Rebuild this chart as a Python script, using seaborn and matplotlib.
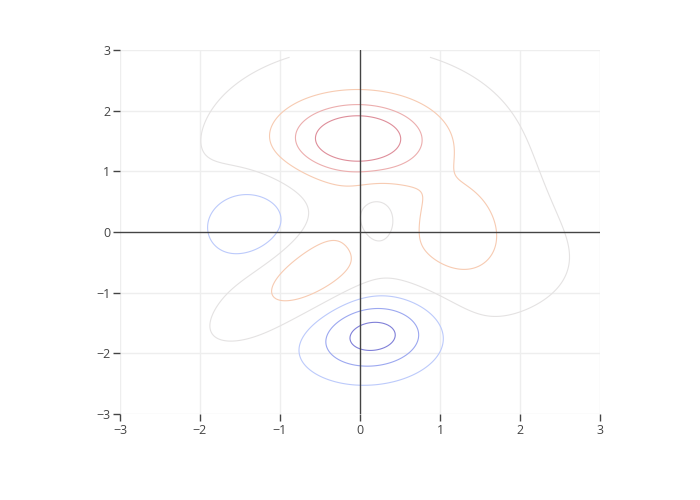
import numpy as np
import seaborn as sns
import matplotlib.pyplot as plt

# bumps that build the surface:
# centre, height, spread, tilt (deg) and shape power (2 = flat topped)
bump_x = [0.00, -0.03, -0.05, 1.25, 1.70, 0.17, -1.34, -0.62, -1.20, 0.22]
bump_y = [1.20, 1.52, 2.00, -0.02, -0.50, -1.70, 0.18, -0.72, -1.15, 0.17]
bump_amp = [0.95, 3.70, 0.30, 0.70, 0.80, -3.00, -1.90, 1.35, 0.80, -1.20]
bump_sx = [1.60, 0.58, 0.70, 0.46, 0.90, 0.54, 0.45, 0.52, 0.85, 0.21]
bump_sy = [1.45, 0.40, 0.40, 0.82, 0.80, 0.43, 0.50, 0.37, 0.40, 0.34]
bump_tilt = [0, 0, 0, 0, 0, 15, 0, 50, 43, 0]
bump_pow = [2, 1, 1, 1, 1, 1, 1, 1, 1, 1]

levels = [-2.5, -1.5, -0.5, 0.5, 1.5, 2.5, 3.5]
level_colors = ['#8080d8', '#9ca8f0', '#bccafb', '#e4e2e2',
                '#f7cbb2', '#ecaeae', '#de8e9a']

x_ticks = [-3, -2, -1, 0, 1, 2, 3]
y_ticks = [-3, -2, -1, 0, 1, 2, 3]

xs = np.linspace(-3, 3, 241)
ys = np.linspace(-3, 2.88, 237)
X, Y = np.meshgrid(xs, ys)
Z = np.zeros_like(X)
for cx, cy, a, sx, sy, t, p in zip(bump_x, bump_y, bump_amp, bump_sx,
                                   bump_sy, bump_tilt, bump_pow):
    th = np.deg2rad(t)
    u = (X - cx) * np.cos(th) + (Y - cy) * np.sin(th)
    v = -(X - cx) * np.sin(th) + (Y - cy) * np.cos(th)
    q = u ** 2 / sx ** 2 + v ** 2 / sy ** 2
    Z += a * np.exp(-(q / 2) ** p)

sns.set_theme(style="white")
plt.rcParams['font.family'] = ['Open Sans', 'DejaVu Sans']

fig = plt.figure(figsize=(7, 5), dpi=100)
ax = fig.add_axes([0.1714, 0.172, 0.6857, 0.728])

ax.contour(X, Y, Z, levels=levels, colors=level_colors, linewidths=0.8)

for t in x_ticks:
    if t != 0:
        ax.axvline(t, color='#eeeeee', lw=1, zorder=0)
for t in y_ticks:
    if t != 0:
        ax.axhline(t, color='#eeeeee', lw=1, zorder=0)
ax.axvline(0, color='#444444', lw=1, zorder=3)
ax.axhline(0, color='#444444', lw=1, zorder=3)

ax.set_xlim(-3, 3)
ax.set_ylim(-3, 3)
ax.set_xticks(x_ticks)
ax.set_yticks(y_ticks)
ax.set_xticklabels([str(t).replace('-', '\u2212') for t in x_ticks])
ax.set_yticklabels([str(t).replace('-', '\u2212') for t in y_ticks])
ax.tick_params(axis='both', direction='out', length=5, width=1, color='#444444',
               labelcolor='#444444', labelsize=9, pad=2, bottom=True, left=True)
for s in ax.spines.values():
    s.set_visible(False)

fig.savefig('out.png', dpi=100)
